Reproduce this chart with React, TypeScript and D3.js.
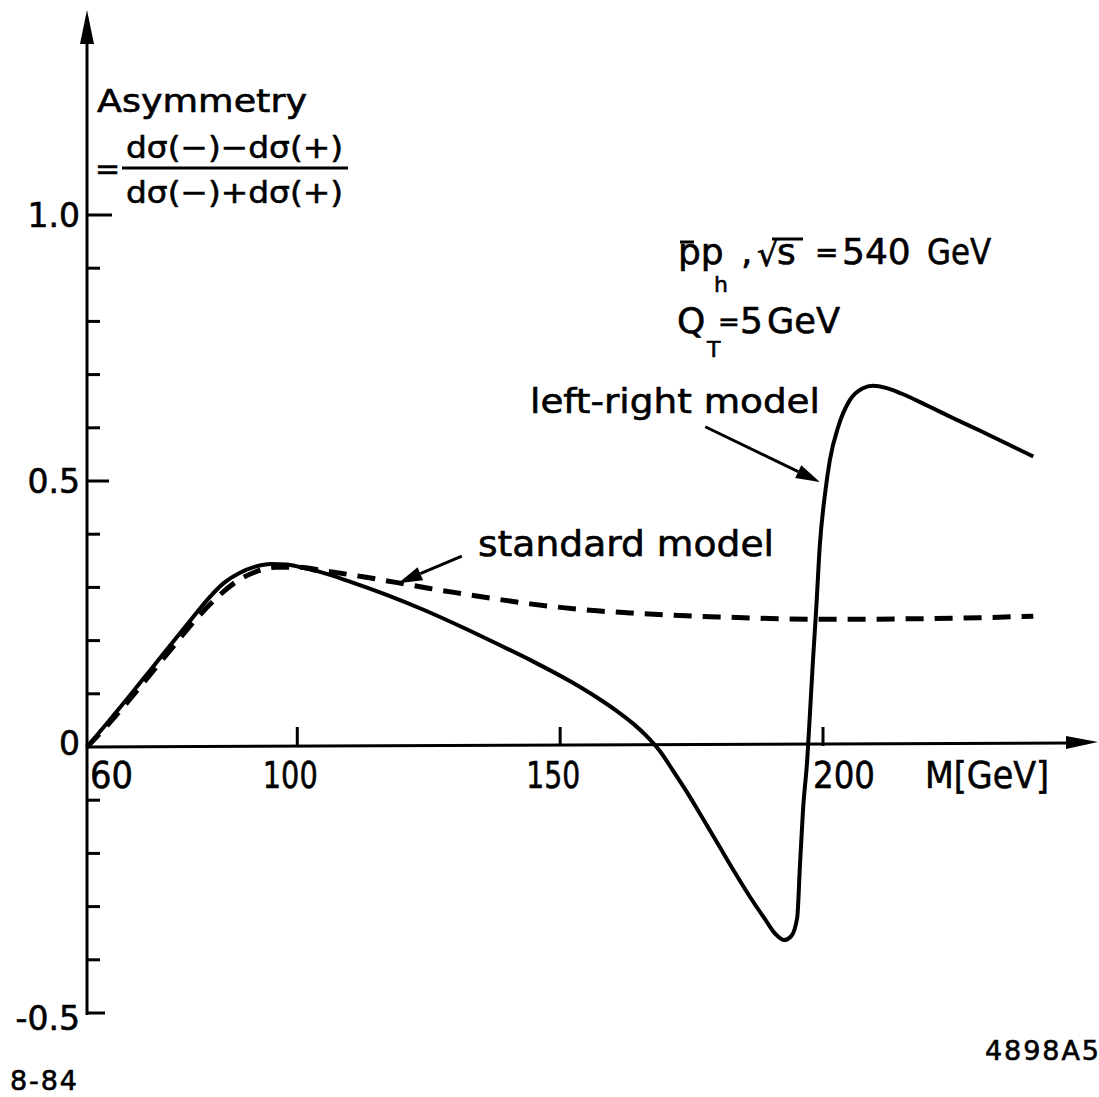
import React from "react";
import * as d3 from "d3";

const width = 1099;
const height = 1097;

// left-right model (solid curve)
const lrMass = [60, 64, 68, 72, 76, 80, 83, 86, 89, 92, 95, 98, 101, 104, 110, 117, 124, 131, 138, 145, 152, 157, 161, 164, 166.5, 169, 171.5, 174, 177, 180, 183, 186, 189, 191, 192.6, 194, 195.1, 195.6, 196.2, 197, 197.5, 198.1, 198.7, 199.4, 200.4, 201.3, 202.9, 205.1, 207.5, 209.5, 212, 215, 220, 225, 230, 235, 240];
const lrAsym = [0, 0.047, 0.095, 0.144, 0.193, 0.242, 0.278, 0.308, 0.327, 0.339, 0.344, 0.343, 0.337, 0.33, 0.311, 0.286, 0.258, 0.227, 0.194, 0.16, 0.123, 0.093, 0.066, 0.043, 0.02, -0.008, -0.045, -0.083, -0.132, -0.182, -0.232, -0.28, -0.324, -0.352, -0.363, -0.355, -0.32, -0.226, -0.118, -0.024, 0.06, 0.164, 0.258, 0.38, 0.477, 0.539, 0.602, 0.652, 0.674, 0.679, 0.675, 0.664, 0.641, 0.617, 0.594, 0.57, 0.546];

// standard model (dashed curve)
const smMass = [60, 64, 68, 72, 76, 80, 84, 88, 92, 96, 100, 106, 112.5, 119, 125.2, 131.5, 138, 144.3, 150.5, 157, 163.3, 172.8, 182, 191.8, 204.6, 217.1, 229.9, 240];
const smAsym = [0, 0.042, 0.088, 0.136, 0.184, 0.232, 0.274, 0.308, 0.329, 0.338, 0.338, 0.33, 0.32, 0.309, 0.298, 0.288, 0.278, 0.269, 0.262, 0.256, 0.252, 0.247, 0.244, 0.241, 0.24, 0.241, 0.243, 0.246];

const yMinorTicks = [-0.5, -0.4, -0.3, -0.2, -0.1, 0.1, 0.2, 0.3, 0.4, 0.5, 0.6, 0.7, 0.8, 0.9, 1.0];
const yLabels = [1.0, 0.5, 0, -0.5];
const xTicks = [100, 150, 200];
const xLabels = ["60", "100", "150", "200"];
const xLabelWidths = [43, 55, 54, 62];

const x = d3.scaleLinear().domain([60, 200]).range([87, 823]);
const y = d3.scaleLinear().domain([0, 1]).range([747, 215]);

const lineGen = d3
  .line<[number, number]>()
  .x(d => x(d[0]))
  .y(d => y(d[1]))
  .curve(d3.curveMonotoneX);

const font = "'DejaVu Sans', sans-serif";

function Arrow({ from, to, head = 24, half = 7 }) {
  // from / to in data units
  const x1 = x(from[0]), y1 = y(from[1]);
  const x2 = x(to[0]), y2 = y(to[1]);
  const a = Math.atan2(y2 - y1, x2 - x1);
  const bx = x2 - head * Math.cos(a), by = y2 - head * Math.sin(a);
  const pts = [
    [x2, y2],
    [bx + half * Math.sin(a), by - half * Math.cos(a)],
    [bx - half * Math.sin(a), by + half * Math.cos(a)]
  ];
  return (
    <g>
      <line x1={x1} y1={y1} x2={bx} y2={by} stroke="#000" strokeWidth={3} />
      <polygon points={pts.map(p => p.join(",")).join(" ")} fill="#000" />
    </g>
  );
}

export default function App() {
  const lrData = lrMass.map((m, i) => [m, lrAsym[i]] as [number, number]);
  const smData = smMass.map((m, i) => [m, smAsym[i]] as [number, number]);
  const x0 = x(60);
  const y0 = y(0);

  return (
    <svg
      width={width}
      height={height}
      style={{ position: "absolute", left: 0, top: 0, background: "#fff" }}
      fontFamily={font}
    >
      <rect width={width} height={height} fill="#fff" />

      {/* y axis */}
      <line x1={x0} y1={42} x2={x0} y2={y(-0.5) + 2} stroke="#000" strokeWidth={3} />
      <polygon points={`${x0},10 ${x0 - 7},44 ${x0 + 7},44`} fill="#000" />
      {yMinorTicks.map(t => {
        const len = t === 1 ? 25 : t === 0.5 ? 22 : t === -0.5 ? 18 : 13;
        return (
          <line key={t} x1={x0} x2={x0 + len} y1={y(t)} y2={y(t)} stroke="#000" strokeWidth={3} />
        );
      })}

      <g stroke="#000" strokeWidth={0.6}>
        {yLabels.map(t => (
          <text key={t} x={80} y={y(t) + (t === 0 ? 8 : t === -0.5 ? 17 : 12)} fontSize={33} textAnchor="end">
            {t === 0 ? "0" : t.toFixed(1)}
          </text>
        ))}
      </g>

      {/* x axis */}
      <line x1={x0} y1={y0} x2={1070} y2={y0 - 4} stroke="#000" strokeWidth={3} />
      <polygon points={`1098,${y0 - 5} 1066,${y0 - 11} 1066,${y0 + 2}`} fill="#000" />
      {xTicks.map(t => (
        <line key={t} x1={x(t)} x2={x(t)} y1={y0 - 1} y2={y0 - 20} stroke="#000" strokeWidth={3} />
      ))}
      <g stroke="#000" strokeWidth={0.6}>
        {xLabels.map((l, i) => {
          const v = +l;
          const left = v === 60 ? x(v) + 3 : v === 200 ? x(v) - 10 : x(v) - 7 - xLabelWidths[i] / 2;
          return (
            <text key={l} x={left} y={788} fontSize={38} textLength={xLabelWidths[i]} lengthAdjust="spacingAndGlyphs">
              {l}
            </text>
          );
        })}
        <text x={925} y={788} fontSize={38} textLength={124} lengthAdjust="spacingAndGlyphs">
          M[GeV]
        </text>
      </g>

      {/* curves */}
      <path d={lineGen(smData) || ""} fill="none" stroke="#000" strokeWidth={5} strokeDasharray="18 11" />
      <path d={lineGen(lrData) || ""} fill="none" stroke="#000" strokeWidth={4} strokeLinejoin="round" />

      <g stroke="#000" strokeWidth={0.6}>
        {/* y title */}
        <text x={97} y={112} fontSize={32} textLength={210} lengthAdjust="spacingAndGlyphs">
          Asymmetry
        </text>
        <text x={95} y={179} fontSize={30}>=</text>
        <text x={126} y={158} fontSize={31} textLength={217} lengthAdjust="spacingAndGlyphs">
          dσ(−)−dσ(+)
        </text>
        <text x={126} y={203} fontSize={31} textLength={217} lengthAdjust="spacingAndGlyphs">
          dσ(−)+dσ(+)
        </text>

        {/* process text */}
        <text fontSize={36}>
          <tspan x={678} y={264}>pp</tspan>
          <tspan x={714} y={292} fontSize={22}>h</tspan>
          <tspan x={741} y={264}>,</tspan>
        </text>
        <text fontSize={36}>
          <tspan x={757} y={266} fontSize={34}>√</tspan>
          <tspan x={777} y={264}>s</tspan>
          <tspan x={815} y={262} fontSize={28}>=</tspan>
          <tspan x={842} y={264}>540</tspan>
        </text>
        <text x={927} y={264} fontSize={36} textLength={64} lengthAdjust="spacingAndGlyphs">
          GeV
        </text>
        <text fontSize={36}>
          <tspan x={677} y={333}>Q</tspan>
          <tspan x={707} y={357} fontSize={22}>T</tspan>
          <tspan x={718} y={331} fontSize={26}>=</tspan>
          <tspan x={740} y={333}>5</tspan>
        </text>
        <text x={767} y={333} fontSize={36} textLength={73} lengthAdjust="spacingAndGlyphs">
          GeV
        </text>

        {/* annotations */}
        <text x={530} y={413} fontSize={34} textLength={290} lengthAdjust="spacingAndGlyphs">
          left-right model
        </text>
        <text x={478} y={556} fontSize={36} textLength={296} lengthAdjust="spacingAndGlyphs">
          standard model
        </text>

        <text x={985} y={1060} fontSize={27} textLength={114} lengthAdjust="spacing">
          4898A5
        </text>
        <text x={10} y={1090} fontSize={27} textLength={67} lengthAdjust="spacing">
          8-84
        </text>
      </g>
      <line x1={122} x2={348} y1={168} y2={168} stroke="#000" strokeWidth={3} />
      <line x1={680} x2={694} y1={242} y2={242} stroke="#000" strokeWidth={3} />
      <line x1={772} x2={803} y1={239} y2={239} stroke="#000" strokeWidth={3} />

      <Arrow from={[177.6, 0.602]} to={[199.4, 0.498]} />
      <Arrow from={[131.3, 0.359]} to={[119.2, 0.308]} />
    </svg>
  );
}
